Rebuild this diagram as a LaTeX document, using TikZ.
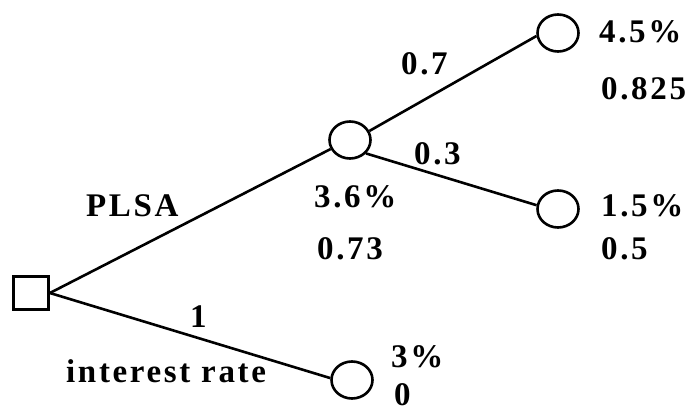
\documentclass[tikz,border=0pt]{standalone}
\usepackage{fontspec}
\newfontfamily\lblfont{Liberation Serif}[LetterSpace=8]
\usetikzlibrary{shapes.geometric}
\begin{document}
\begin{tikzpicture}[x=1pt,y=1pt,
  chance/.style={draw,ellipse,line width=2.6pt,minimum width=41pt,minimum height=37pt,inner sep=0pt},
  decision/.style={draw,rectangle,line width=2.8pt,minimum width=35pt,minimum height=33pt,inner sep=0pt},
  branch/.style={line width=2.6pt},
  lbl/.style={anchor=base west,inner sep=0pt,font=\lblfont\bfseries\fontsize{33}{33}\selectfont}]
\useasboundingbox (0,0) rectangle (694,414);
\fill[white] (0,0) rectangle (694,414);
% nodes
\node[decision] (sq) at (31,121) {};
\node[chance] (m) at (350,274) {};
\node[chance] (t) at (558,381) {};
\node[chance] (r) at (558,205) {};
\node[chance] (b) at (352,34) {};
% branches
\draw[branch] (sq.east) -- (m.205);
\draw[branch] (sq.east) -- (b.175);
\draw[branch] (m.25) -- (t.188);
\draw[branch] (m.-40) -- (r.170);
% labels
\node[lbl] (l07) at (401,339) {0.7};
\node[lbl] (l03) at (414,249) {0.3};
\node[lbl] (l45) at (599,371) {4.5\%};
\node[lbl] (l0825) at (601,314) {0.825};
\node[lbl] (l15) at (601,197) {1.5\%};
\node[lbl] (l05) at (601,154) {0.5};
\node[lbl] (l36) at (314,206) {3.6\%};
\node[lbl] (l073) at (317,154) {0.73};
\node[lbl] (lplsa) at (86,197) {PLSA};
\node[lbl] (l1) at (190,86) {1};
\node[lbl] (lir) at (66,31) {interest rate};
\node[lbl] (l3) at (391,46) {3\%};
\node[lbl] (l0) at (394,8) {0};
\end{tikzpicture}
\end{document}
